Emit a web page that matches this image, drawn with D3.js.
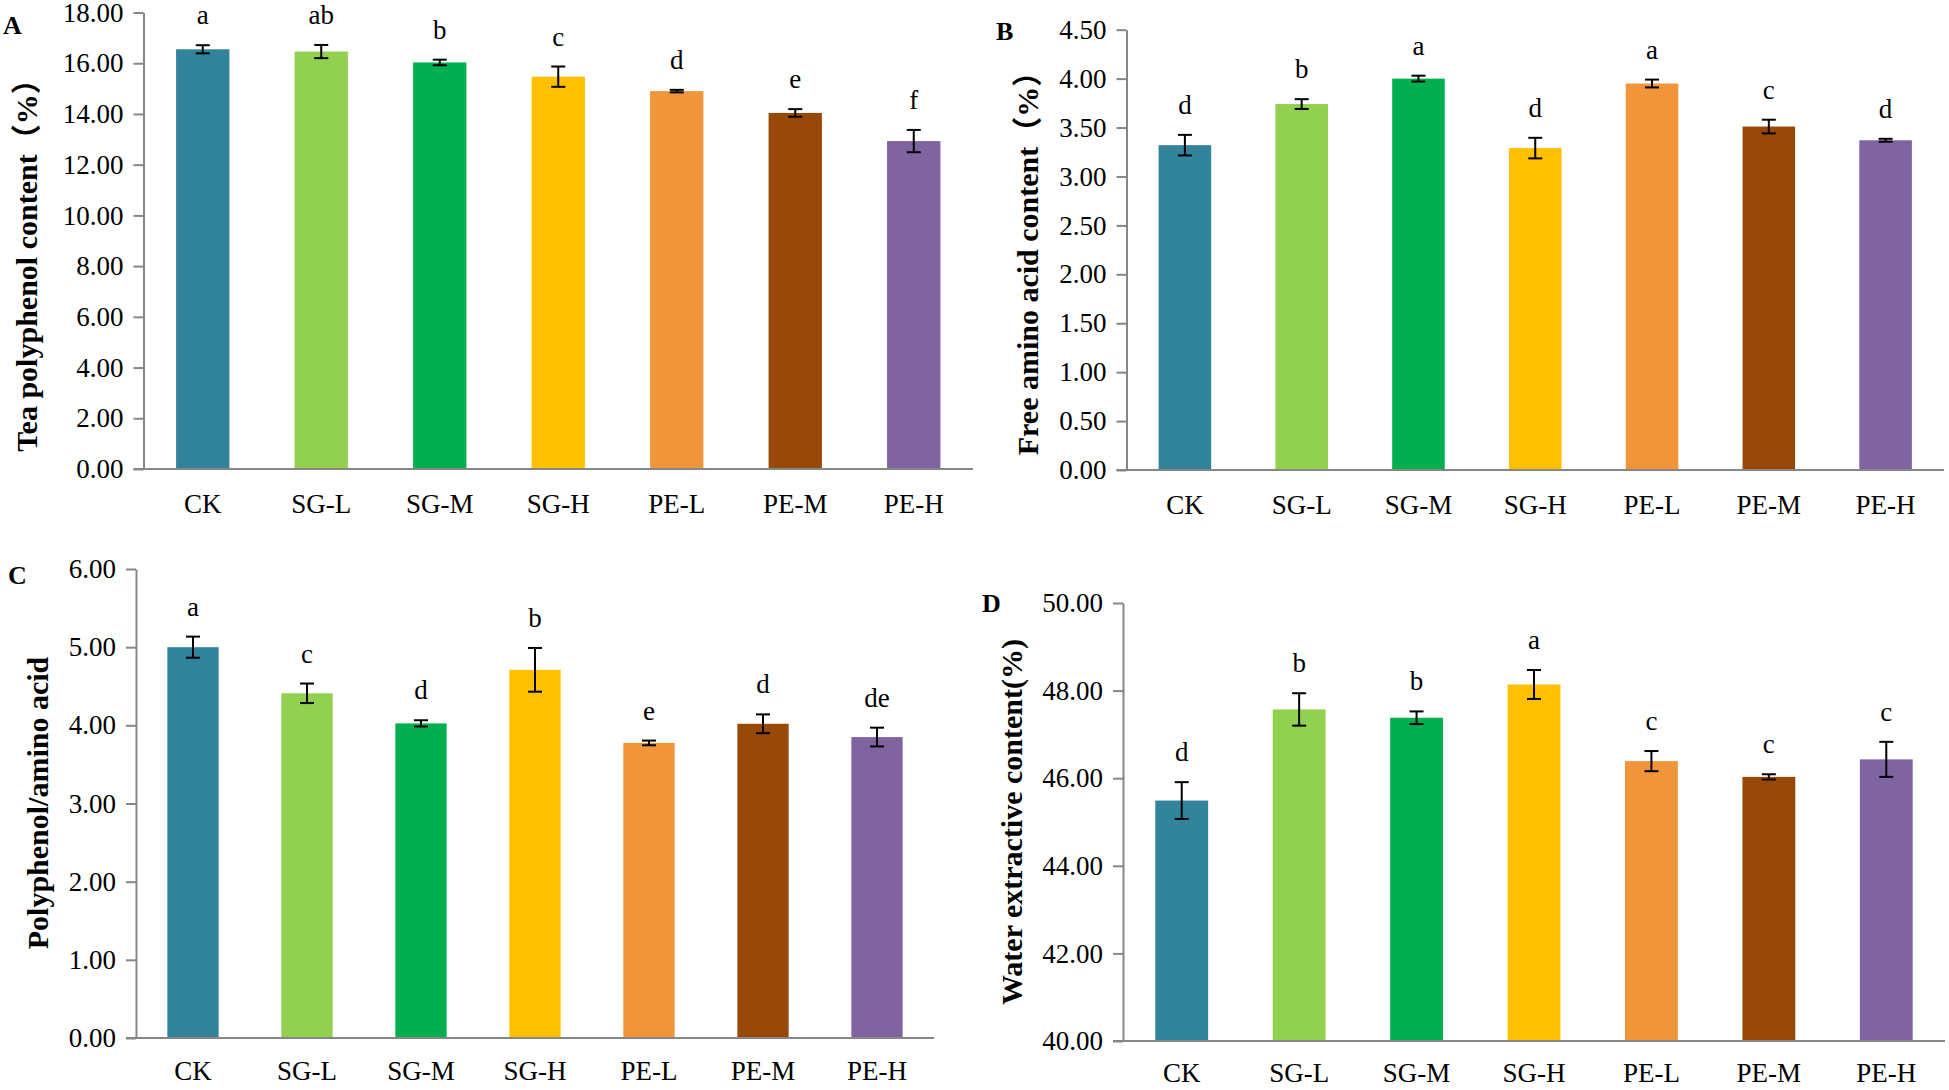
<!DOCTYPE html>
<html>
<head>
<meta charset="utf-8">
<script src="https://cdn.jsdelivr.net/npm/d3@7"></script>
<style>
  body { margin: 0; background: #fff; }
  text { font-family: 'Liberation Serif', 'Times New Roman', 'Noto Sans CJK SC', serif; }
</style>
</head>
<body>
<div id="graf"></div>
<script>
// Datos
categorias = ['CK', 'SG-L', 'SG-M', 'SG-H', 'PE-L', 'PE-M', 'PE-H']
colores = ['#31849B', '#92D050', '#00B050', '#FFC000', '#F0953A', '#984807', '#8064A2']

polifenol = [16.55, 16.46, 16.03, 15.47, 14.90, 14.04, 12.93]
polifenolErr = [0.16, 0.26, 0.11, 0.40, 0.05, 0.15, 0.44]
polifenolLetras = ['a', 'ab', 'b', 'c', 'd', 'e', 'f']
polifenolTicks = [0, 2, 4, 6, 8, 10, 12, 14, 16, 18]

aminoacido = [3.32, 3.74, 4.00, 3.29, 3.95, 3.51, 3.37]
aminoacidoErr = [0.105, 0.05, 0.03, 0.105, 0.04, 0.07, 0.015]
aminoacidoLetras = ['d', 'b', 'a', 'd', 'a', 'c', 'd']
aminoacidoTicks = [0, 0.5, 1, 1.5, 2, 2.5, 3, 3.5, 4, 4.5]

ratio = [5.00, 4.41, 4.025, 4.71, 3.775, 4.02, 3.85]
ratioErr = [0.135, 0.125, 0.04, 0.28, 0.03, 0.12, 0.12]
ratioLetras = ['a', 'c', 'd', 'b', 'e', 'd', 'de']
ratioTicks = [0, 1, 2, 3, 4, 5, 6]

extracto = [45.49, 47.57, 47.38, 48.14, 46.39, 46.03, 46.43]
extractoErr = [0.42, 0.37, 0.145, 0.33, 0.23, 0.06, 0.40]
extractoLetras = ['d', 'b', 'b', 'a', 'c', 'c', 'c']
extractoTicks = [40, 42, 44, 46, 48, 50]

// Area de visualizacion
ancho_total = 1949
alto_total = 1090

svg = d3.select('#graf').append('svg')
  .attr('width', ancho_total)
  .attr('height', alto_total)

svg.append('rect')
  .attr('width', ancho_total)
  .attr('height', alto_total)
  .attr('fill', '#fff')

paneles = [
  { letra: 'A', lx: 3, ly: 34, x0: 143.5, x1: 973, y0: 469, y1: 12.5,
    valores: polifenol, err: polifenolErr, letras: polifenolLetras, ticks: polifenolTicks,
    titulo: 'Tea polyphenol content（%）', tx: 26, ty: 258, pad: 25 },
  { letra: 'B', lx: 996, ly: 40, x0: 1126.5, x1: 1944, y0: 470, y1: 29.7,
    valores: aminoacido, err: aminoacidoErr, letras: aminoacidoLetras, ticks: aminoacidoTicks,
    titulo: 'Free amino acid content（%）', tx: 1027, ty: 256, pad: 25 },
  { letra: 'C', lx: 8, ly: 584, x0: 136, x1: 934, y0: 1038, y1: 569,
    valores: ratio, err: ratioErr, letras: ratioLetras, ticks: ratioTicks,
    titulo: 'Polyphenol/amino acid', tx: 37, ty: 803, pad: 23 },
  { letra: 'D', lx: 982, ly: 612, x0: 1123, x1: 1945, y0: 1041, y1: 603,
    valores: extracto, err: extractoErr, letras: extractoLetras, ticks: extractoTicks,
    titulo: 'Water extractive content(%)', tx: 1011, ty: 822, pad: 22 }
]

paneles.forEach(p => dibujar(p))

function dibujar(p) {
  g = svg.append('g')

  // Escaladores
  x = d3.scaleBand()
    .domain(categorias)
    .range([p.x0, p.x1])
    .paddingInner(0.55)
    .paddingOuter(0.275)

  y = d3.scaleLinear()
    .domain([p.ticks[0], p.ticks[p.ticks.length - 1]])
    .range([p.y0, p.y1])

  datos = categorias.map((c, i) => ({
    cat: c, valor: p.valores[i], err: p.err[i], letra: p.letras[i], color: colores[i]
  }))

  // Barras
  g.selectAll('rect.barra')
    .data(datos)
    .enter()
    .append('rect')
      .attr('class', 'barra')
      .attr('x', d => x(d.cat))
      .attr('y', d => y(d.valor))
      .attr('width', x.bandwidth())
      .attr('height', d => y(p.ticks[0]) - y(d.valor))
      .attr('fill', d => d.color)

  // Barras de error
  cap = 7
  eb = g.selectAll('g.err')
    .data(datos)
    .enter()
    .append('g')
      .attr('class', 'err')
      .attr('stroke', '#000')
      .attr('stroke-width', 2)
  eb.append('line')
    .attr('x1', d => x(d.cat) + x.bandwidth() / 2)
    .attr('x2', d => x(d.cat) + x.bandwidth() / 2)
    .attr('y1', d => y(d.valor - d.err))
    .attr('y2', d => y(d.valor + d.err))
  eb.append('line')
    .attr('x1', d => x(d.cat) + x.bandwidth() / 2 - cap)
    .attr('x2', d => x(d.cat) + x.bandwidth() / 2 + cap)
    .attr('y1', d => y(d.valor + d.err))
    .attr('y2', d => y(d.valor + d.err))
  eb.append('line')
    .attr('x1', d => x(d.cat) + x.bandwidth() / 2 - cap)
    .attr('x2', d => x(d.cat) + x.bandwidth() / 2 + cap)
    .attr('y1', d => y(d.valor - d.err))
    .attr('y2', d => y(d.valor - d.err))

  // Letras de significancia
  g.selectAll('text.letra')
    .data(datos)
    .enter()
    .append('text')
      .attr('class', 'letra')
      .attr('x', d => x(d.cat) + x.bandwidth() / 2)
      .attr('y', d => y(d.valor + d.err) - 21)
      .attr('text-anchor', 'middle')
      .attr('font-size', '27px')
      .attr('fill', '#000')
      .text(d => d.letra)

  // Ejes
  yAxis = d3.axisLeft(y)
    .tickValues(p.ticks)
    .tickFormat(d3.format('.2f'))
    .tickSize(10)
    .tickSizeOuter(0)
    .tickPadding(10)

  yg = g.append('g')
    .attr('transform', `translate(${p.x0},0)`)
    .call(yAxis)
  yg.select('.domain').attr('stroke', '#868686').attr('stroke-width', 2)
  yg.selectAll('.tick line').attr('stroke', '#868686').attr('stroke-width', 2)
  yg.selectAll('.tick text')
    .attr('font-size', '27px')
    .attr('fill', '#000')

  xAxis = d3.axisBottom(x)
    .tickSize(0)
    .tickSizeOuter(0)
    .tickPadding(p.pad)

  xg = g.append('g')
    .attr('transform', `translate(0,${p.y0})`)
    .call(xAxis)
  xg.select('.domain')
    .attr('d', `M${p.x0 - 10},0H${p.x1}`)
    .attr('stroke', '#868686')
    .attr('stroke-width', 2)
  xg.selectAll('.tick text')
    .attr('font-size', '27px')
    .attr('fill', '#000')

  // Titulo del eje y
  g.append('text')
    .attr('transform', `translate(${p.tx},${p.ty}) rotate(-90)`)
    .attr('text-anchor', 'middle')
    .attr('dy', '0.35em')
    .attr('font-size', '30px')
    .attr('font-weight', 'bold')
    .text(p.titulo)

  // Letra del panel
  g.append('text')
    .attr('x', p.lx)
    .attr('y', p.ly)
    .attr('font-size', '26px')
    .attr('font-weight', 'bold')
    .text(p.letra)
}
</script>
</body>
</html>
